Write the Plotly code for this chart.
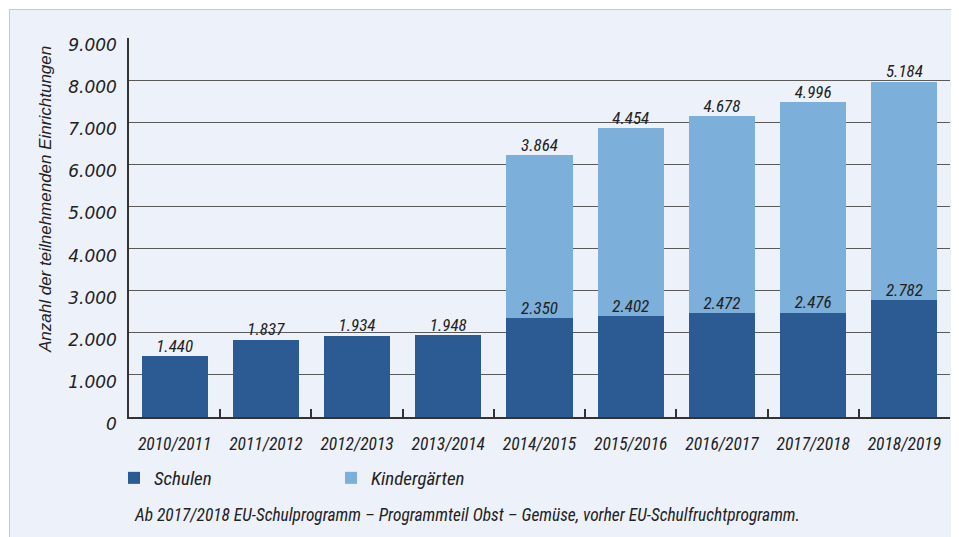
import plotly.graph_objects as go

years = ["2010/2011", "2011/2012", "2012/2013", "2013/2014", "2014/2015",
         "2015/2016", "2016/2017", "2017/2018", "2018/2019"]
schulen = [1440, 1837, 1934, 1948, 2350, 2402, 2472, 2476, 2782]
kindergaerten = [None, None, None, None, 3864, 4454, 4678, 4996, 5184]

DARK = "#2c5a93"
LIGHT = "#7cafd9"
BG = "#edf1fa"
TXT = "#222222"
NARROW = "Liberation Sans Narrow, Roboto Condensed, Arial Narrow, sans-serif"
SANS = "Liberation Sans, Arial, sans-serif"
WIDE = "DejaVu Sans, Verdana, sans-serif"

# page body has an 8px margin; coordinates below are in page pixels
OFF = 8
W, H = 959 - OFF, 537 - OFF
L, R, T, B = 129 - OFF, 9, 38 - OFF, 120
pw, ph = W - L - R, H - T - B


def px_x(p):
    return (p - OFF - L) / pw


def px_y(p):
    return (H - B - (p - OFF)) / ph


def fmt(v):
    return f"{v:,}".replace(",", ".")


totals = [s + (k or 0) for s, k in zip(schulen, kindergaerten)]

fig = go.Figure()
fig.add_trace(go.Bar(x=years, y=schulen, name="Schulen", marker_color=DARK,
                     marker_line_width=0, hoverinfo="skip"))
fig.add_trace(go.Bar(x=years, y=kindergaerten, name="Kindergärten", marker_color=LIGHT,
                     marker_line_width=0, hoverinfo="skip"))

# value labels
fig.add_trace(go.Scatter(x=years, y=schulen, mode="text",
                         text=[fmt(v) for v in schulen], textposition="top center",
                         textfont=dict(family=NARROW, size=17, color=TXT, style="italic"),
                         showlegend=False, hoverinfo="skip", cliponaxis=False))
kx = [y for y, k in zip(years, kindergaerten) if k is not None]
ky = [t for t, k in zip(totals, kindergaerten) if k is not None]
kt = [fmt(k) for k in kindergaerten if k is not None]
fig.add_trace(go.Scatter(x=kx, y=ky, mode="text", text=kt, textposition="top center",
                         textfont=dict(family=NARROW, size=17, color=TXT, style="italic"),
                         showlegend=False, hoverinfo="skip", cliponaxis=False))

# panel background
fig.add_shape(type="rect", xref="paper", yref="paper",
              x0=px_x(9.5), x1=px_x(975), y0=px_y(560), y1=px_y(9.5),
              fillcolor=BG, line=dict(color="#c9c9c9", width=1), layer="below")

fig.add_annotation(text="Anzahl der teilnehmenden Einrichtungen", textangle=-90,
                   xref="paper", yref="paper", x=px_x(45), y=px_y(200),
                   xanchor="center", yanchor="middle", showarrow=False,
                   font=dict(family=SANS, size=17, color=TXT, style="italic"))
fig.add_annotation(text="Ab 2017/2018 EU-Schulprogramm – Programmteil Obst – Gemüse, vorher EU-Schulfruchtprogramm.",
                   xref="paper", yref="paper", x=px_x(132), y=px_y(515),
                   xanchor="left", yanchor="middle", showarrow=False,
                   font=dict(family=NARROW, size=17.4, color=TXT, style="italic"))

fig.update_layout(
    width=W, height=H,
    margin=dict(l=L, r=R, t=T, b=B, pad=0),
    paper_bgcolor="white", plot_bgcolor="rgba(0,0,0,0)",
    barmode="stack", bargap=0.275,
    separators=",.",
    showlegend=True,
    legend=dict(orientation="h", x=px_x(114), y=px_y(478), xanchor="left", yanchor="middle",
                entrywidth=172, entrywidthmode="pixels", traceorder="normal",
                font=dict(family=NARROW, size=19, color=TXT, style="italic"),
                bgcolor="rgba(0,0,0,0)"),
    xaxis=dict(showgrid=False, showline=True, linecolor="#333333", linewidth=1.5,
               ticks="inside", tickson="boundaries", ticklen=8, tickcolor="#333333",
               tickwidth=1.5,
               tickfont=dict(family=NARROW, size=17.5, color=TXT, style="italic"),
               ticklabelstandoff=10, fixedrange=True),
    yaxis=dict(range=[0, 9000], dtick=1000, tickformat=",.0f",
               showgrid=True, gridcolor="#5a5a5a", gridwidth=1.2,
               showline=True, linecolor="#333333", linewidth=1.5,
               zeroline=False, ticks="", ticklabelstandoff=7, ticklabelshift=7,
               tickfont=dict(family=WIDE, size=17, color=TXT, style="italic"),
               fixedrange=True),
)

fig.write_html("out.html")
